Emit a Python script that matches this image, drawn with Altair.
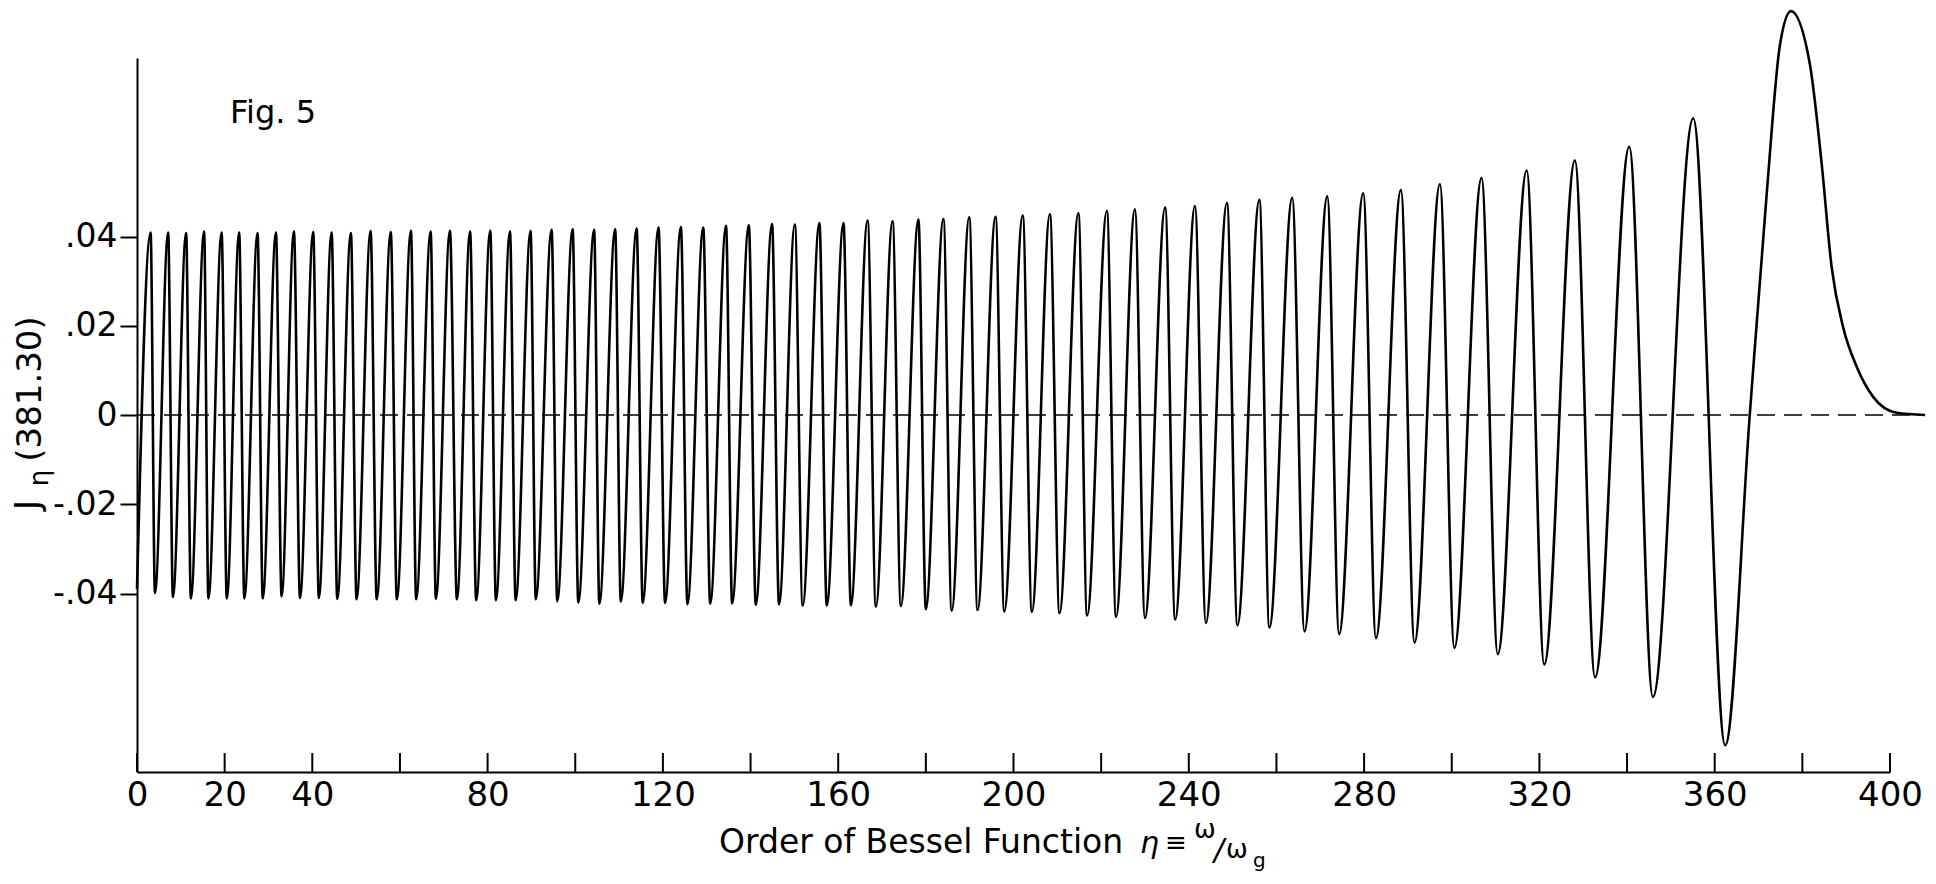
import altair as alt
import pandas as pd

# ---- data (eta = order, J = value) ----
start_eta = [0.0]
start_val = [-0.039]

peak_eta = [3.1, 7.1, 11.2, 15.3, 19.3, 23.3, 27.5, 31.7, 35.8, 40.2, 44.4, 48.8, 53.3, 57.9, 62.5,
            67.0, 71.4, 76.0, 80.6, 85.1, 89.8, 94.6, 99.4, 104.3, 109.1, 114.0, 119.0, 124.1, 129.2,
            134.4, 139.6, 144.9, 150.1, 155.7, 161.2, 166.7, 172.4, 178.3, 184.0, 189.9, 195.9, 202.1,
            208.3, 214.8, 221.3, 227.7, 234.6, 241.4, 248.7, 256.1, 263.6, 271.6, 279.8, 288.4, 297.3,
            306.8, 317.1, 328.1, 340.5, 355.1, 377.4]
peak_val = [0.0409, 0.0409, 0.0408, 0.0411, 0.0409, 0.0409, 0.0408, 0.0409, 0.0411, 0.0410, 0.0409,
            0.0408, 0.0412, 0.0410, 0.0413, 0.0411, 0.0413, 0.0411, 0.0413,
            0.0411, 0.0412, 0.0415, 0.0416, 0.0415, 0.0416, 0.0418, 0.0420, 0.0421, 0.0420, 0.0424,
            0.0425, 0.0428, 0.0427, 0.0430, 0.0430, 0.0436, 0.0434,
            0.0438, 0.0439, 0.0443, 0.0444, 0.0447, 0.0450, 0.0452, 0.0457, 0.0461, 0.0465, 0.0468, 0.0475,
            0.0482, 0.0487, 0.0490, 0.0497, 0.0504, 0.0517, 0.0531, 0.0548, 0.0570, 0.0601,
            0.0665, 0.0905]

trough_eta = [4.1, 8.2, 12.3, 16.3, 20.5, 24.5, 28.7, 33.0, 37.2, 41.5, 45.7, 50.1, 54.7, 59.3, 63.7,
              68.2, 73.0, 77.4, 81.9, 86.4, 91.0, 95.9, 100.7, 105.5, 110.4, 115.4, 120.5, 125.6, 130.8,
              135.8, 141.2, 146.5, 151.9, 157.4, 162.9, 168.6, 174.3, 180.0, 185.9, 191.8, 197.9, 204.2,
              210.5, 216.8, 223.4, 230.0, 236.9, 243.9, 251.1, 258.4, 266.4, 274.3, 282.7, 291.5, 300.6,
              310.5, 321.1, 332.7, 345.9, 362.4]
trough_val = [-0.0399, -0.0408, -0.0411, -0.0411, -0.0411, -0.0411, -0.0411, -0.0406, -0.0410, -0.0410,
              -0.0412, -0.0413, -0.0413, -0.0413, -0.0413, -0.0412, -0.0413, -0.0415, -0.0415,
              -0.0415, -0.0413, -0.0417, -0.0420, -0.0423, -0.0418, -0.0421, -0.0421, -0.0424, -0.0423,
              -0.0422, -0.0425, -0.0424, -0.0427, -0.0427, -0.0426, -0.0429,
              -0.0428, -0.0435, -0.0438, -0.0437, -0.0440, -0.0441, -0.0444, -0.0449, -0.0452, -0.0455,
              -0.0458, -0.0466, -0.0471, -0.0476,
              -0.0485, -0.0491, -0.0500, -0.0510, -0.0522, -0.0536, -0.0559, -0.0588, -0.0632,
              -0.0740]

rise_eta = [368.0, 371.9, 374.9]
rise_val = [0.0, 0.050, 0.083]

tail_eta = [381.7, 384.4, 386.7, 389.3, 392.4, 396.2, 401.5, 408.0]
tail_val = [0.0787, 0.0564, 0.033, 0.0197, 0.0108, 0.004, 0.0005, 0.0]

zero_eta = [0, 408]
zero_val = [0, 0]

x_ticks = list(range(0, 401, 20))
y_ticks = [-0.04, -0.02, 0, 0.02, 0.04]

# ---- layout ----
W, H = 1753, 714
OX, OY = 137, 58  # page position of plot origin
FONT = "DejaVu Sans"

df = pd.DataFrame({
    "eta": start_eta + peak_eta + trough_eta + rise_eta + tail_eta,
    "J": start_val + peak_val + trough_val + rise_val + tail_val,
}).sort_values("eta")

xs = alt.Scale(domain=[0, 400], nice=False, zero=False)
ys = alt.Scale(domain=[-0.08, 0.08], nice=False, zero=False)

x_axis = alt.Axis(values=x_ticks, title=None, grid=False, ticks=False, tickSize=0,
                  domain=True, domainColor="black", domainWidth=2,
                  labelExpr="(datum.value <= 40 || datum.value % 40 == 0) ? datum.label : ''",
                  labelFont=FONT, labelFontSize=34, labelColor="black", labelPadding=6,
                  labelFlush=False, labelOverlap=False)
y_axis = alt.Axis(values=y_ticks, title=None, grid=False, tickSize=17, tickWidth=2, tickColor="black",
                  domain=True, domainColor="black", domainWidth=2,
                  labelExpr="datum.value == 0 ? '0' : (datum.value < 0 ? '-' : '') + '.0' + format(abs(datum.value) * 100, 'd')",
                  labelFont=FONT, labelFontSize=33, labelColor="black", labelPadding=3,
                  labelFlush=False, labelOverlap=False)

curve = alt.Chart(df).mark_line(interpolate="monotone", color="black", strokeWidth=2.6, clip=False).encode(
    x=alt.X("eta:Q", scale=xs, axis=x_axis),
    y=alt.Y("J:Q", scale=ys, axis=y_axis),
)

zero_line = alt.Chart(pd.DataFrame({"eta": zero_eta, "J": zero_val})).mark_line(
    color="black", strokeWidth=1.6, strokeDash=[18, 9], clip=False).encode(
    x=alt.X("eta:Q", scale=xs, axis=x_axis),
    y=alt.Y("J:Q", scale=ys, axis=y_axis),
)

ticks = alt.Chart(pd.DataFrame({"eta": x_ticks})).mark_rule(color="black", strokeWidth=2).encode(
    x=alt.X("eta:Q", scale=xs, axis=x_axis),
    y=alt.value(H),
    y2=alt.value(H - 19),
)


def txt(s, px, py, size, angle=0, align="left", baseline="alphabetic", italic=False):
    kw = dict(text=s, font=FONT, fontSize=size, angle=angle, align=align, baseline=baseline, color="black")
    if italic:
        kw["fontStyle"] = "italic"
    return alt.Chart(pd.DataFrame({"a": [0]})).mark_text(**kw).encode(
        x=alt.value(px - OX), y=alt.value(py - OY))


TB = 853  # baseline of the x title
texts = [
    txt("Fig. 5", 230, 123, 32),
    txt("Order of Bessel Function", 719, TB, 33),
    txt("η", 1140, TB, 30, italic=True),
    txt("≡", 1165, TB - 2, 26),
    txt("ω", 1194, TB - 15, 26),
    txt("/", 1214, TB + 7, 30, italic=True),
    txt("ω", 1226, TB + 5, 26),
    txt("g", 1253, TB + 14, 20),
    txt("(381.30)", 31, 389, 34, angle=270, align="center", baseline="middle"),
    txt("J", 29, 505, 34, angle=270, align="center", baseline="middle"),
    txt("η", 40, 478, 26, angle=270, align="center", baseline="middle"),
]

chart = alt.layer(curve, zero_line, ticks, *texts).properties(
    width=W, height=H,
    padding={"left": 129, "top": 50, "right": 38, "bottom": 100},
    autosize=alt.AutoSizeParams(type="none"),
    background="white",
).configure_view(stroke=None)

chart.save("out.html", embed_options={"renderer": "svg", "actions": False})
